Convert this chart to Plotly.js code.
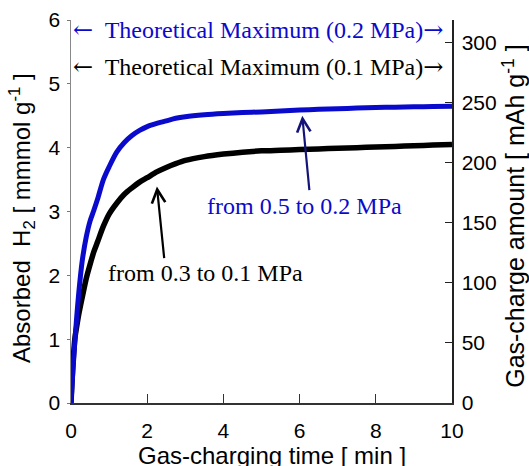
<!DOCTYPE html>
<html>
<head>
<meta charset="utf-8">
<script src="https://cdn.plot.ly/plotly-3.0.1.min.js"></script>
<style>html,body{margin:0;padding:0;background:#fff;}#chart{width:529px;height:466px;}</style>
</head>
<body>
<div id="chart"></div>
<script>
// Gas-charging time [min]
var timeMin = [0, 0.02, 0.05, 0.1, 0.15, 0.2, 0.25, 0.3, 0.4, 0.5, 0.6, 0.7, 0.85, 1.0, 1.2, 1.4, 1.6, 1.8, 2.0, 2.25, 2.5, 2.75, 3.0, 3.5, 4.0, 4.5, 5.0, 5.5, 6.0, 6.5, 7.0, 7.5, 8.0, 8.5, 9.0, 9.5, 10.0];
// Absorbed H2 [mmol/g], 0.5 -> 0.2 MPa (blue)
var h2High = [0, 0.2, 0.5, 0.95, 1.35, 1.7, 2.0, 2.25, 2.6, 2.85, 3.02, 3.2, 3.5, 3.7, 3.93, 4.08, 4.19, 4.27, 4.33, 4.38, 4.42, 4.46, 4.485, 4.515, 4.535, 4.55, 4.56, 4.575, 4.59, 4.6, 4.61, 4.62, 4.63, 4.635, 4.64, 4.645, 4.65];
// Absorbed H2 [mmol/g], 0.3 -> 0.1 MPa (black)
var h2Low = [0, 0.25, 0.6, 1.0, 1.2, 1.38, 1.53, 1.67, 1.95, 2.17, 2.37, 2.53, 2.77, 2.96, 3.13, 3.27, 3.37, 3.46, 3.53, 3.62, 3.69, 3.75, 3.8, 3.86, 3.9, 3.93, 3.95, 3.96, 3.97, 3.98, 3.99, 4.0, 4.01, 4.02, 4.03, 4.04, 4.05];

var xTicks = [0, 2, 4, 6, 8, 10];
var yLeftTicks = [0, 1, 2, 3, 4, 5, 6];
var yRightTicks = [0, 50, 100, 150, 200, 250, 300];

var leftRange = [0, 6];
var rightRange = [0, 318.5];

var theoHigh = 5.84, theoLow = 5.26;

var traces = [
  {x: timeMin, y: h2Low, type: 'scatter', mode: 'lines', line: {color: '#000000', width: 5.5, shape: 'spline', smoothing: 0.8}, hoverinfo: 'skip', showlegend: false},
  {x: timeMin, y: h2High, type: 'scatter', mode: 'lines', line: {color: '#0a0acc', width: 5, shape: 'spline', smoothing: 0.8}, hoverinfo: 'skip', showlegend: false},
  {x: [0, 10], y: [0, 0], yaxis: 'y2', type: 'scatter', mode: 'lines', line: {width: 0}, hoverinfo: 'skip', showlegend: false}
];

var serif = 'Liberation Serif, Times New Roman, serif';
var sans = 'Liberation Sans, Arial, sans-serif';
var arrowL = '<span style="font-family:DejaVu Serif">\u2190</span>';
var arrowR = '<span style="font-family:DejaVu Serif">\u2192</span>';

var layout = {
  width: 529, height: 466,
  margin: {l: 71, r: 77, t: 20, b: 63, pad: 0},
  paper_bgcolor: '#fff', plot_bgcolor: '#fff',
  font: {family: sans, size: 20, color: '#000'},
  showlegend: false,
  xaxis: {
    range: [0, 10], tickvals: xTicks, ticktext: xTicks.map(String),
    ticks: 'inside', ticklen: 9, tickcolor: '#333', tickwidth: 1,
    showline: true, linecolor: '#333', linewidth: 1.5, mirror: false,
    showgrid: false, zeroline: false, ticklabelstandoff: 8,
    tickfont: {family: sans, size: 21}
  },
  xaxis2: {overlaying: 'x', range: [0, 10], showline: true, linecolor: '#888', linewidth: 1.5, side: 'top', showticklabels: false, ticks: '', showgrid: false, zeroline: false},
  yaxis: {
    range: leftRange, tickvals: yLeftTicks, ticktext: yLeftTicks.map(String),
    ticks: 'outside', ticklen: 3, tickcolor: '#777',
    showline: true, linecolor: '#888', linewidth: 1.5,
    showgrid: false, zeroline: false, ticklabelstandoff: 2,
    tickfont: {family: sans, size: 21}
  },
  yaxis2: {
    overlaying: 'y', side: 'right', range: rightRange,
    tickvals: yRightTicks, ticktext: yRightTicks.map(String),
    ticks: 'inside', ticklen: 7, tickcolor: '#222',
    showline: true, linecolor: '#222', linewidth: 1.5,
    showgrid: false, zeroline: false, ticklabelstandoff: 4,
    tickfont: {family: sans, size: 21}
  },
  annotations: [
    {xref: 'x', yref: 'y', x: 0.01, y: theoHigh, xanchor: 'left', yanchor: 'middle', showarrow: false,
     text: arrowL + '  Theoretical Maximum (0.2 MPa)' + arrowR, font: {family: serif, size: 24, color: '#0a0acc'}},
    {xref: 'x', yref: 'y', x: 0.01, y: theoLow, xanchor: 'left', yanchor: 'middle', showarrow: false,
     text: arrowL + '  Theoretical Maximum (0.1 MPa)' + arrowR, font: {family: serif, size: 24, color: '#000'}},
    {xref: 'x', yref: 'y', x: 6.13, y: 3.08, showarrow: false,
     text: 'from 0.5 to 0.2 MPa', font: {family: serif, size: 24, color: '#0a0acc'}},
    {xref: 'x', yref: 'y', x: 3.53, y: 2.03, showarrow: false,
     text: 'from 0.3 to 0.1 MPa', font: {family: serif, size: 24, color: '#000'}},
    {xref: 'x', yref: 'y', x: 6.07, y: 4.5, axref: 'x', ayref: 'y', ax: 6.26, ay: 3.31,
     text: '', showarrow: true, arrowhead: 5, arrowsize: 1.2, arrowwidth: 2.2, arrowcolor: '#141478'},
    {xref: 'x', yref: 'y', x: 2.255, y: 3.39, axref: 'x', ayref: 'y', ax: 2.45, ay: 2.245,
     text: '', showarrow: true, arrowhead: 5, arrowsize: 1.2, arrowwidth: 2.2, arrowcolor: '#000'},
    {xref: 'paper', yref: 'paper', x: 0.5276, y: -0.136, xanchor: 'center', yanchor: 'middle', showarrow: false,
     text: 'Gas-charging time [ min ]', font: {family: sans, size: 24}},
    {xref: 'paper', yref: 'paper', x: -0.1286, y: 0.483, xanchor: 'center', yanchor: 'middle', textangle: -90, showarrow: false,
     text: 'Absorbed  H<sub>2</sub> [ mmmol g<sup>-1</sup> ]', font: {family: sans, size: 24}},
    {xref: 'paper', yref: 'paper', x: 1.162, y: 0.488, xanchor: 'center', yanchor: 'middle', textangle: -90, showarrow: false,
     text: 'Gas-charge amount [ mAh g<sup>-1</sup> ]', font: {family: sans, size: 25}}
  ]
};

Plotly.newPlot('chart', traces, layout, {staticPlot: true, displayModeBar: false});
</script>
</body>
</html>
